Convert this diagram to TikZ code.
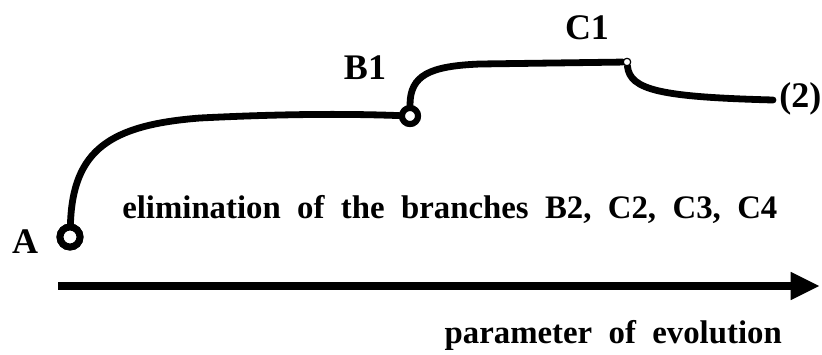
\documentclass[tikz,border=0pt]{standalone}
\usepackage{fontspec}
\setmainfont{Liberation Serif}
\usetikzlibrary{arrows.meta}
\newcommand\mywidesp{\spaceskip=0.5em\relax}
\tikzset{
  curveline/.style={line width=5.1pt, line cap=round},
  bigring/.style={circle, draw, fill=white, line width=5.2pt, minimum size=15pt, inner sep=0pt},
  midring/.style={circle, draw, fill=white, line width=4.5pt, minimum size=12pt, inner sep=0pt},
  dotring/.style={circle, draw, fill=white, line width=0.8pt, minimum size=5.5pt, inner sep=0pt},
  lbl/.style={font=\fontsize{27}{30}\selectfont\bfseries, inner sep=0pt},
  txt/.style={font=\fontsize{24.6}{28}\selectfont\bfseries, inner sep=0pt},
}
\begin{document}
\begin{tikzpicture}[x=0.75pt, y=-0.75pt]
\useasboundingbox (0,0) rectangle (822,354);
% points
\node[bigring] (A) at (70,237) {};
\node[midring] (B) at (410,116) {};
\node[dotring] (C) at (627,62) {};
\coordinate (bend) at (200,118);
\coordinate (top) at (480,64);
\coordinate (end) at (773,100);
% curves
\draw[curveline] (A) .. controls (73,150) and (110,125) .. (bend)
  .. controls (260,115) and (330,113) .. (B);
\draw[curveline] (B) .. controls (410,75) and (430,66) .. (top) -- (C);
\draw[curveline] (C) .. controls (630,90) and (660,97) .. (end);
% redraw rings on top
\node[bigring] at (A) {};
\node[midring] at (B) {};
\node[dotring] at (C) {};
% labels
\node[lbl] (lA) at (25,242) {A};
\node[lbl] (lB) at (365,68) {B1};
\node[lbl] (lC) at (587,28) {C1};
\node[lbl, anchor=west] (l2) at (779,99) {(2)};
\node[txt, anchor=base west] (elim) at (122,218) {\mywidesp elimination of the branches B2, C2, C3, C4};
% axis
\coordinate (ax0) at (58,286);
\coordinate (ax1) at (820,286);
\draw[line width=6pt, -{Triangle[length=22pt,width=19.5pt]}] (ax0) -- (ax1);
\node[txt, anchor=base east] (param) at (782,343) {\mywidesp parameter of evolution};
\end{tikzpicture}
\end{document}
